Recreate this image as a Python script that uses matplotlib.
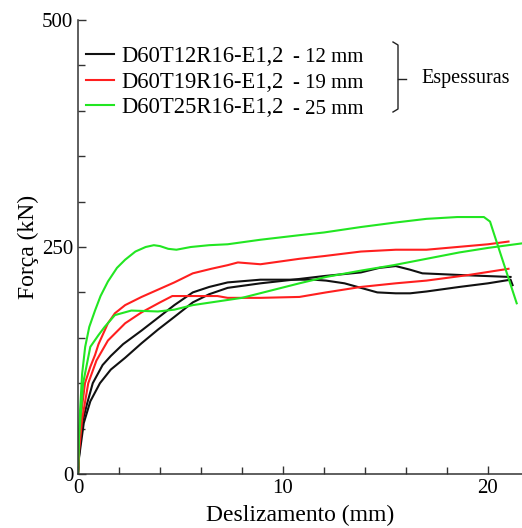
import matplotlib
matplotlib.use('Agg')
import matplotlib.pyplot as plt
from matplotlib.lines import Line2D
from matplotlib.ticker import MultipleLocator

plt.rcParams['font.family'] = ['Liberation Serif', 'DejaVu Serif']

# black curves (D60T12R16-E1,2)
b1_x = [0, 0.05, 0.2, 0.45, 0.72, 1.2, 1.6, 2.2, 3.1, 3.9, 4.7, 5.6, 6.4, 7.3, 8.9, 10.5,
        11.5, 12.1, 13.0, 13.8, 14.6, 15.5, 16.2, 17.0, 18.6, 20.0, 21.1, 21.2]
b1_y = [0, 20, 56, 78, 100, 120, 130, 143, 158, 172, 186, 200, 206, 211, 214, 214,
        214, 213, 210, 205, 200, 199, 199, 201, 206, 210, 214, 208]
b2_x = [0, 0.05, 0.28, 0.6, 1.07, 1.6, 2.3, 3.1, 3.9, 4.7, 5.6, 6.4, 7.3, 8.9, 10.5,
        12.0, 13.8, 14.7, 15.5, 16.2, 16.8, 18.8, 21.1]
b2_y = [0, 18, 56, 80, 100, 115, 128, 144, 159, 173, 189, 198, 205, 210, 214,
        218, 222, 227, 229, 225, 221, 219, 217]

# red curves (D60T19R16-E1,2)
r1_x = [0, 0.05, 0.15, 0.34, 0.6, 0.83, 1.0, 1.46, 1.8, 2.3, 3.1, 3.9, 4.7, 5.6, 6.5, 7.3,
        7.8, 8.9, 10.8, 12.0, 13.8, 15.5, 17.0, 18.5, 20.0, 21.0]
r1_y = [0, 30, 65, 100, 118, 131, 143, 166, 177, 186, 195, 203, 211, 221, 226, 230,
        233, 231, 237, 240, 245, 247, 247, 250, 253, 256]
r2_x = [0, 0.05, 0.2, 0.5, 0.9, 1.46, 2.3, 3.1, 4.0, 4.6, 6.8, 7.3, 8.9, 10.8, 12.1,
        13.8, 15.5, 17.0, 19.0, 21.0]
r2_y = [0, 25, 60, 100, 125, 147, 166, 178, 189, 196, 196, 194, 194, 195, 200,
        206, 210, 213, 219, 226]

# green curves (D60T25R16-E1,2)
g1_x = [0, 0.03, 0.1, 0.2, 0.35, 0.55, 0.83, 1.1, 1.46, 1.9, 2.3, 2.8, 3.3, 3.7, 4.0, 4.4,
        4.8, 5.5, 6.4, 7.3, 8.9, 10.8, 12.0, 13.8, 15.5, 17.0, 18.5, 19.8, 20.1, 20.3, 21.4]
g1_y = [0, 40, 70, 110, 140, 162, 180, 196, 212, 227, 236, 245, 250, 252, 251, 248,
        247, 250, 252, 253, 258, 263, 266, 272, 277, 281, 283, 283, 278, 264, 188]
g2_x = [0, 0.05, 0.25, 0.6, 1.0, 1.3, 1.8, 2.6, 3.9, 4.7, 5.6, 8.0, 10.8, 12.1, 13.8,
        15.4, 17.0, 18.6, 20.0, 21.66]
g2_y = [0, 40, 100, 140, 153, 162, 175, 180, 179, 181, 186, 194, 210, 217, 224,
        230, 237, 244, 249, 254]

labels = ['D60T12R16-E1,2', 'D60T19R16-E1,2', 'D60T25R16-E1,2']
thick = ['- 12 mm', '- 19 mm', '- 25 mm']
colors = ['#111111', '#ff1f1f', '#22e622']

fig = plt.figure(figsize=(5.22, 5.28), dpi=100)
ax = fig.add_axes([78 / 522, 1 - 474 / 528, 444 / 522, 454 / 528])

lw = 1.5
ax.plot(b1_x, b1_y, color=colors[0], lw=lw)
ax.plot(b2_x, b2_y, color=colors[0], lw=lw)
ax.plot(r1_x, r1_y, color=colors[1], lw=lw)
ax.plot(r2_x, r2_y, color=colors[1], lw=lw)
ax.plot(g1_x, g1_y, color=colors[2], lw=lw)
ax.plot(g2_x, g2_y, color=colors[2], lw=lw)

ax.set_xlim(0, 444 / 20.5)
ax.set_ylim(0, 500)
ax.xaxis.set_major_locator(MultipleLocator(10))
ax.xaxis.set_minor_locator(MultipleLocator(2))
ax.yaxis.set_major_locator(MultipleLocator(250))
ax.yaxis.set_minor_locator(MultipleLocator(50))
ax.tick_params(which='both', direction='in', labelsize=15, color='#333333', width=1)
ax.tick_params(which='major', length=6)
ax.tick_params(which='minor', length=5)
for s in ['top', 'right']:
    ax.spines[s].set_visible(False)
for s in ['left', 'bottom']:
    ax.spines[s].set_linewidth(1.1)
    ax.spines[s].set_color('#333333')

ax.set_xlabel('Deslizamento (mm)', fontsize=17, labelpad=5)
ax.set_ylabel('Força (kN)', fontsize=17, labelpad=2)

handles = [Line2D([], [], color=c, lw=lw) for c in colors]
ax.legend(handles, labels, loc='upper left', bbox_to_anchor=(86 / 522, 1 - 46 / 528),
          bbox_transform=fig.transFigure, frameon=False, fontsize=16.3,
          handlelength=1.25, handletextpad=0.3, labelspacing=0.2, borderpad=0, borderaxespad=0)

for i, t in enumerate(thick):
    fig.text(293 / 522, 1 - (58 + 25.5 * i) / 528, t, fontsize=15, va='center')

# bracket
bx = [393 / 522, 398 / 522, 398 / 522, 393 / 522]
by = [1 - 42 / 528, 1 - 45 / 528, 1 - 109 / 528, 1 - 112 / 528]
fig.add_artist(Line2D(bx, by, color='#222222', lw=1))
fig.add_artist(Line2D([398 / 522, 406 / 522], [1 - 79 / 528, 1 - 79 / 528], color='#222222', lw=1))
fig.text(421 / 522, 1 - 79 / 528, 'Espessuras', fontsize=14.5, va='center')

fig.savefig('out.png', dpi=100)
